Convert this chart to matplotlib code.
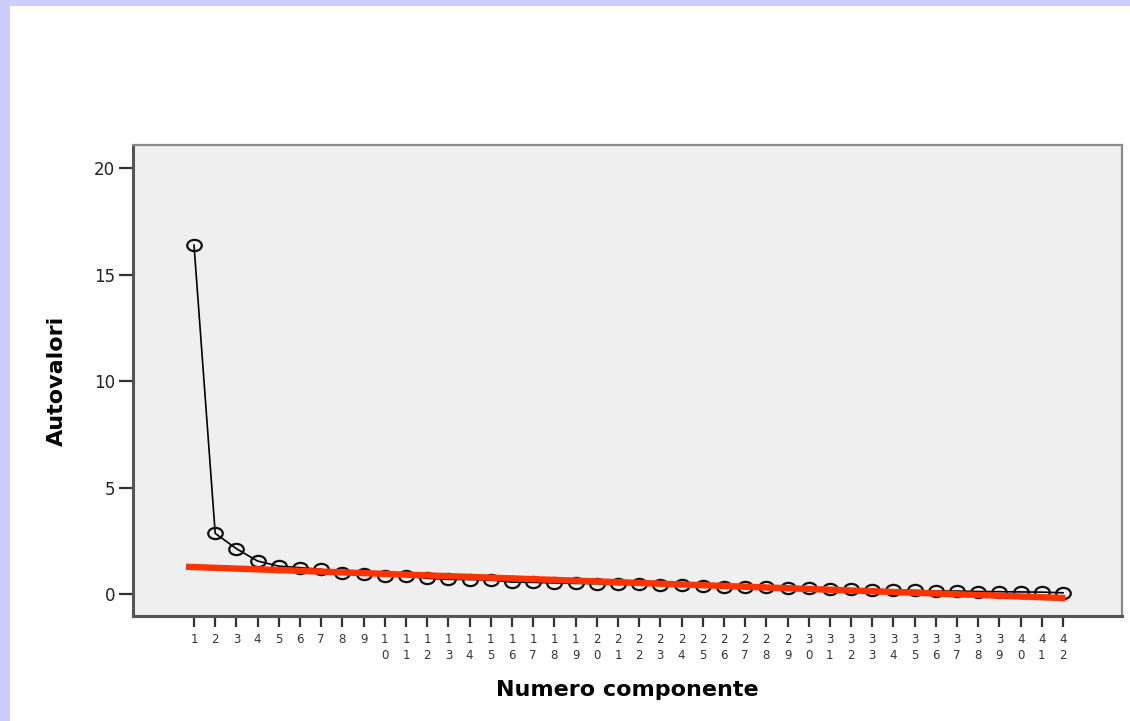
import numpy as np
import matplotlib
matplotlib.use('Agg')
import matplotlib.pyplot as plt
from matplotlib.patches import Rectangle
from matplotlib.path import Path
from matplotlib.transforms import Affine2D

# dati
componenti = list(range(1, 43))
autovalori = [16.38, 2.85, 2.13, 1.55, 1.31, 1.24, 1.16, 0.97, 0.96, 0.85,
              0.84, 0.74, 0.69, 0.68, 0.66, 0.56, 0.55, 0.52, 0.50, 0.49,
              0.45, 0.45, 0.42, 0.41, 0.36, 0.35, 0.33, 0.32, 0.30, 0.27,
              0.26, 0.22, 0.21, 0.19, 0.17, 0.14, 0.14, 0.12, 0.11, 0.10,
              0.09, 0.06]
etichette_x = ['\n'.join(str(n)) for n in componenti]
tick_y = [0, 5, 10, 15, 20]

# retta rossa (tendenza)
trend_x = [0.62, 42.1]
trend_y = [1.28, -0.19]

fig = plt.figure(figsize=(11.3, 7.21), dpi=100)
fig.patch.set_facecolor('#ccccff')
fig.add_artist(Rectangle((10 / 1130, 0), 1, 1 - 6 / 721, transform=fig.transFigure,
                         facecolor='white', edgecolor='none', zorder=-10))

ax = fig.add_axes([133 / 1130, 1 - 616 / 721, (1122 - 133) / 1130, (616 - 145) / 721])
ax.set_facecolor('#efefef')

# marker ellittico (il grafico originale e' stirato in orizzontale)
ellisse = Path.unit_circle().transformed(Affine2D().scale(1.3, 1.0))

ax.plot(componenti, autovalori, color='black', linewidth=1.2,
        marker=ellisse, markersize=10.5, markerfacecolor='none',
        markeredgecolor='#111111', markeredgewidth=1.6, zorder=3)
ax.plot(trend_x, trend_y, color='#ff3300', linewidth=4.6,
        solid_capstyle='butt', zorder=4)

ax.set_xlim(-1.878, 44.78)
ax.set_ylim(-1.03, 21.08)
ax.set_xticks(componenti)
ax.set_xticklabels(etichette_x, fontsize=8.5, color='#333333', linespacing=1.35)
ax.set_yticks(tick_y)
ax.set_yticklabels([str(v) for v in tick_y], fontsize=12, color='#222222')

ax.tick_params(axis='x', direction='out', length=8, width=1.6, color='#333333', pad=4)
ax.tick_params(axis='y', direction='out', length=10, width=1.6, color='#333333', pad=3)

for lato in ['left', 'bottom']:
    ax.spines[lato].set_color('#555555')
    ax.spines[lato].set_linewidth(2.2)
for lato in ['top', 'right']:
    ax.spines[lato].set_color('#8a8a8a')
    ax.spines[lato].set_linewidth(1.6)

ax.set_xlabel('Numero componente', fontsize=16, fontweight='bold')
ax.set_ylabel('Autovalori', fontsize=16, fontweight='bold')
ax.xaxis.set_label_coords(0.5, -0.135)
ax.yaxis.set_label_coords(-0.067, 0.5)

fig.savefig('out.png', dpi=100)
